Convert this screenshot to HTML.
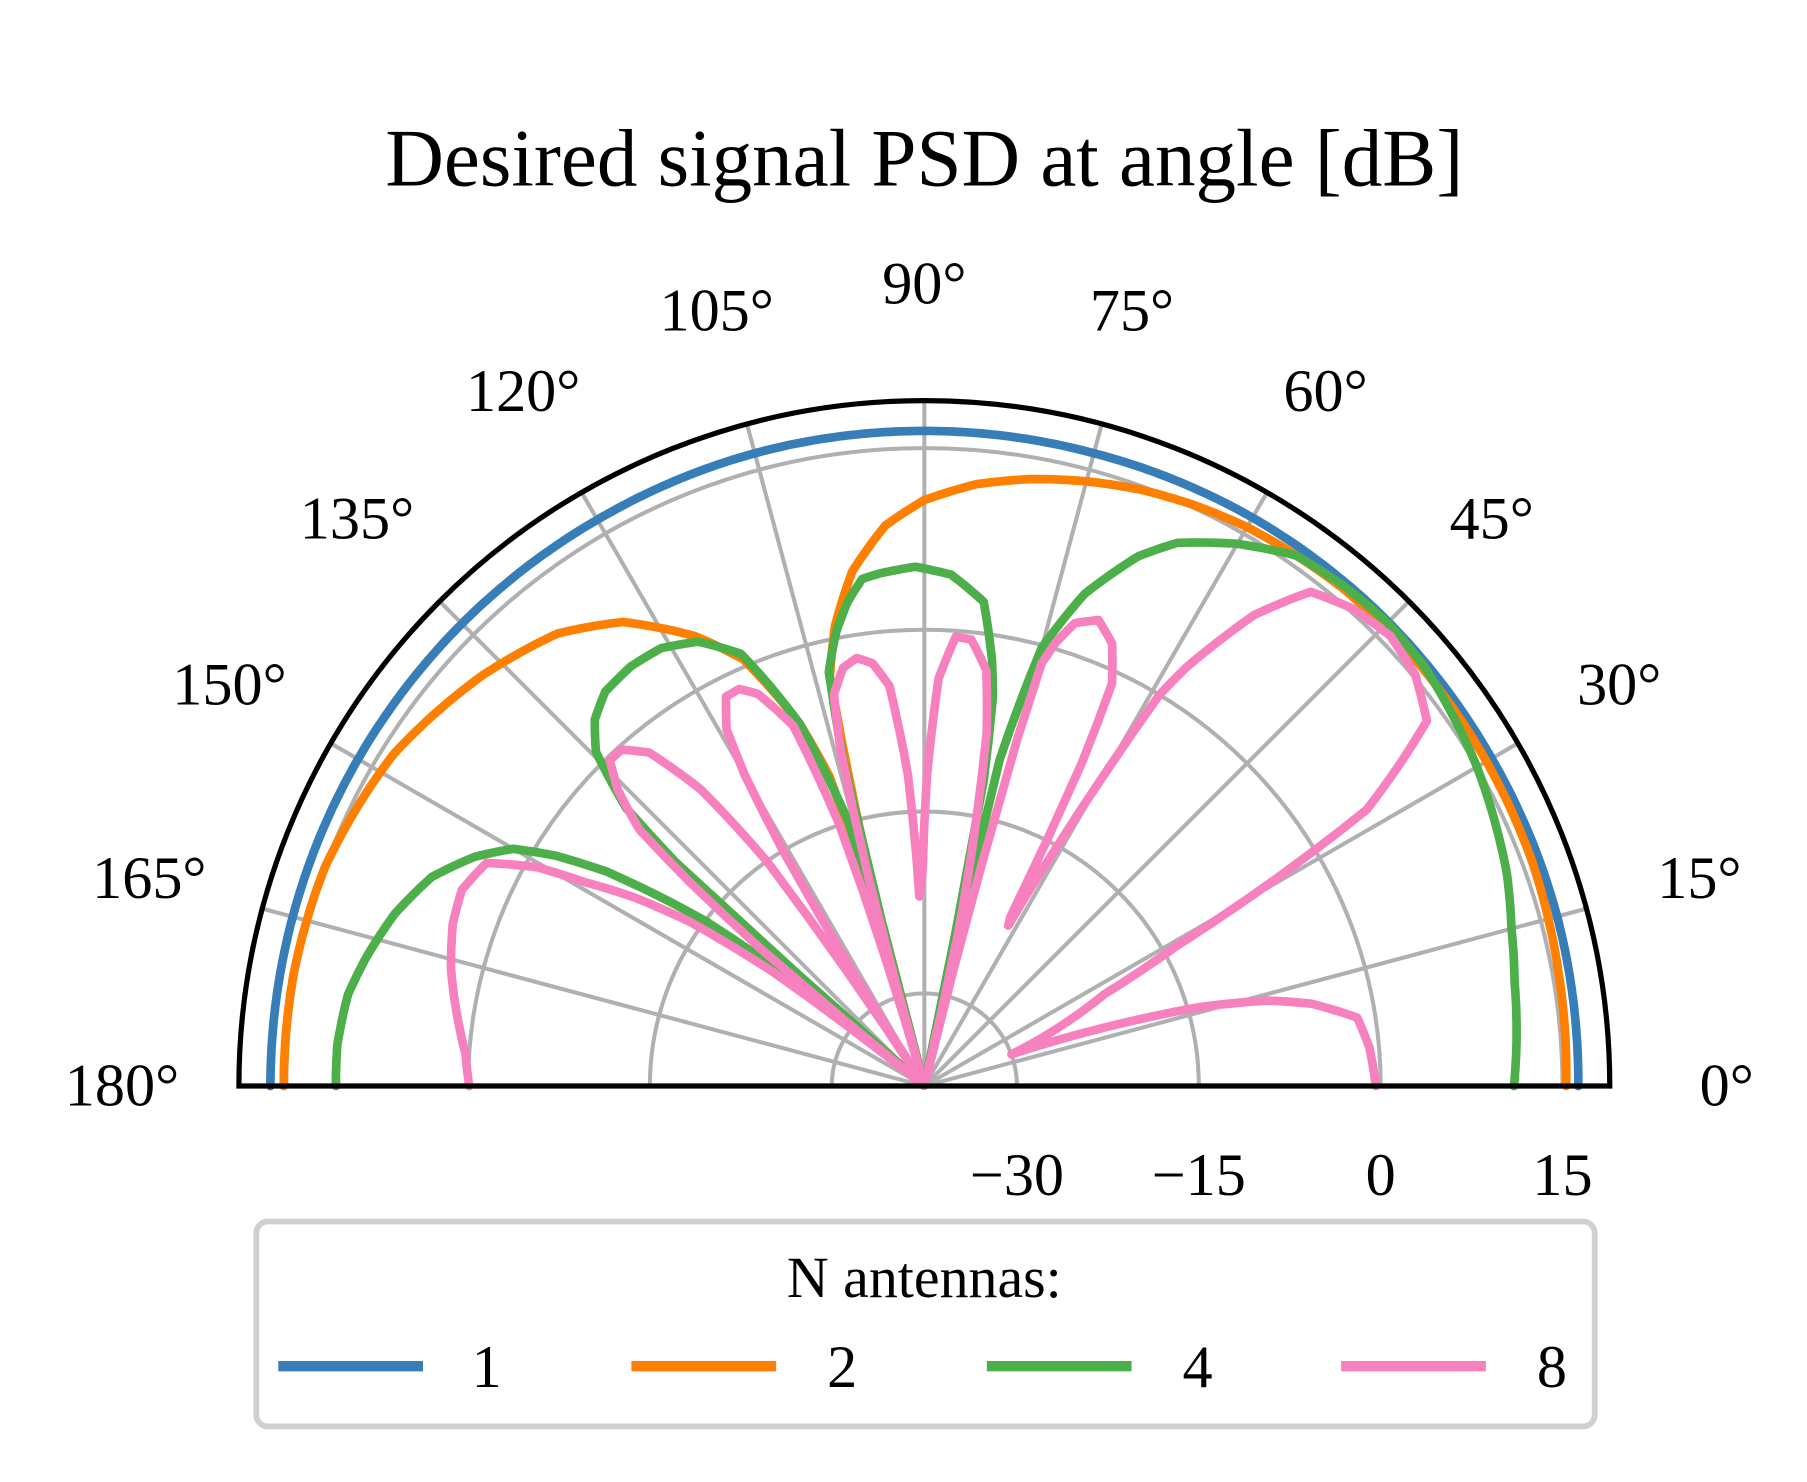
<!DOCTYPE html>
<html><head><meta charset="utf-8"><style>
html,body{margin:0;padding:0;background:#fff}
svg{display:block}
text{font-family:"Liberation Serif","DejaVu Serif",serif;fill:#000}
</style></head><body>
<svg id="chart" width="1807" height="1482" viewBox="0 0 1560 1280">
<text x="798" y="160" font-size="70" text-anchor="middle">Desired signal PSD at angle [dB]</text>
<g id="grid"></g>
<g id="series"></g>
<g id="frame"></g>
<g id="labels"></g>
<g>
<rect x="221" y="1055" width="1156" height="177" rx="10" fill="#fff" stroke="#d0d0d0" stroke-width="5"/>
<text x="798" y="1120" font-size="50" text-anchor="middle">N antennas:</text>
<g><line x1="240" y1="1180" x2="365" y2="1180" stroke="#377eb8" stroke-width="9"/><text x="420" y="1198" font-size="52" text-anchor="middle">1</text></g>
<g><line x1="545" y1="1180" x2="670" y2="1180" stroke="#ff7f00" stroke-width="9"/><text x="727" y="1198" font-size="52" text-anchor="middle">2</text></g>
<g><line x1="852" y1="1180" x2="977" y2="1180" stroke="#4daf4a" stroke-width="9"/><text x="1034" y="1198" font-size="52" text-anchor="middle">4</text></g>
<g><line x1="1158" y1="1180" x2="1283" y2="1180" stroke="#f781bf" stroke-width="9"/><text x="1340" y="1198" font-size="52" text-anchor="middle">8</text></g>
</g>
</svg>
<script>
const angleTicks = [0,15,30,45,60,75,90,105,120,135,150,165,180];
const radialTicks = [-30,-15,0,15];
const seriesNames = ["1","2","4","8"];
const ang1 = [0,15,30,45,60,75,90,105,120,135,150,165,180];
const val1 = [16.3,16.4,16.4,16.5,16.5,16.4,16.4,16.4,16.3,16.3,16.3,16.3,16.3];
const ang2 = [0,10,20,30,40,50,60,65,70,75,80,85,90,94,98,101,103,104.5,105,106,107,109,113,117,123,129,137,148,160,170,180];
const val2 = [15.3,15.5,15.8,15.9,16.0,16.0,15.6,15.2,14.7,14.0,13.2,12.2,10.7,8.7,5.2,1.0,-3,-20,-37.6,-20,-11,-6,0.6,4,8,10.4,12.1,14,15,15.2,15.2];
const ang4 = [0,10,15,20,30,40,45,50,55,60,65,68,72,75,77,78,79,80,81,83,87,91,95,97,99,101,103,104,105,106,109,113,117,121,125,129,132,134.5,137,138,139,141,143,146,148,150,153,157,162,167,171,176,180];
const val4 = [11,11.8,12.5,13.5,15.0,16.2,16.4,16.2,15.8,14.0,11.8,9.5,5,-0.2,-10,-37.6,-12,-5,-2,2.6,4.6,5.2,4.8,4.5,2.8,0.5,-2.6,-10,-37.6,-15,-6,1.1,3.5,4.5,4.6,4.2,3,1,-4,-10,-37.6,-25,-15,-6,-1.8,1.5,4,6.5,8.3,9.6,10.5,10.9,10.9];
const ang8 = [0,5,9,12,14,16,18,20,24,27,29,30.5,32,36,40,44,48,52,55,58,59,60,61,62.4,63,64,65,67,69.5,72,73.5,74.5,75,75.5,76.5,77.5,79,80,81.5,84,86,88,89.5,90.5,91.5,93,95,97,99,101,103,104,105,106,108,110,113,115,117,119,120,121,123,125,127,129.5,132,134,136,138,139,140,141,143,145,147,149,150.5,153,157,161,166,172,176,180];
const val8 = [-0.4,-0.8,-1.5,-5,-8.5,-14,-22,-30,-25,-21,-14,-4,5.4,13.6,15.2,15.8,15.3,14.1,9.8,3,0,-8,-15,-22.7,-22,-8,-1,2,3.4,2.5,0.5,-1.5,-8,-19,-37.6,-25,-15,-8,-3,-0.6,-0.5,-4,-12,-20,-22,-12,-4.5,-2.5,-1.9,-2.5,-4.5,-9,-20,-37.6,-15,-6,-2.5,-1.5,-1.6,-4,-8,-15,-37.6,-15,-7,-2,-0.3,-0.3,-2.5,-6,-12,-20,-37.6,-22,-14,-9,-5,-1,2.9,3.8,3.5,2.6,1.2,0.3,-0.1];
const colors = ["#377eb8","#ff7f00","#4daf4a","#f781bf"];
const angArrays = [ang1,ang2,ang4,ang8];
const valArrays = [val1,val2,val4,val8];

const NS="http://www.w3.org/2000/svg";
const cx=798, cy=938, R=592, rMin=-37.64, rMax=18.9;
function rScale(v){ return Math.max(0,(v-rMin)/(rMax-rMin))*R; }
function pt(a,v){ const t=a*Math.PI/180, r=rScale(v); return [cx+r*Math.cos(t), cy-r*Math.sin(t)]; }
function mk(tag,attrs,parent){ const e=document.createElementNS(NS,tag); for(const k in attrs) e.setAttribute(k,attrs[k]); parent.appendChild(e); return e; }
const grid=document.getElementById('grid'), ser=document.getElementById('series'), frame=document.getElementById('frame'), labels=document.getElementById('labels');
radialTicks.forEach(v=>{
  const r=rScale(v);
  const c=mk('path',{d:`M${cx-r},${cy} A${r},${r} 0 0 1 ${cx+r},${cy}`,fill:'none',stroke:'#b0b0b0','stroke-width':3.5},grid);
  
  
  const t=mk('text',{x:cx+r,y:1032,'font-size':52,'text-anchor':'middle'},labels);
  t.textContent=(v<0?'\u2212':'')+Math.abs(v);
  
  
});
angleTicks.forEach(a=>{
  const t=a*Math.PI/180;
  const l=mk('line',{x1:cx,y1:cy,x2:cx+R*Math.cos(t),y2:cy-R*Math.sin(t),stroke:'#b0b0b0','stroke-width':3.5},grid);
  
  
  const tx=mk('text',{x:cx+693*Math.cos(t),y:cy-693*Math.sin(t)+17,'font-size':52,'text-anchor':'middle'},labels);
  tx.textContent=a+'\u00b0';
  
  
});
angArrays.forEach((angs,i)=>{
  const vals=valArrays[i];
  const pts=[pt(angs[0],vals[0])];
  for(let j=1;j<angs.length;j++){
    const a0=angs[j-1],a1=angs[j],v0=vals[j-1],v1=vals[j];
    const n=Math.max(1,Math.ceil((a1-a0)/0.5));
    for(let k=1;k<=n;k++){const f=k/n; pts.push(pt(a0+(a1-a0)*f, v0+(v1-v0)*f));}
  }
  const d=pts.map((p,j)=>(j?'L':'M')+p[0].toFixed(1)+','+p[1].toFixed(1)).join(' ');
  const p=mk('path',{d:d,fill:'none',stroke:colors[i],'stroke-width':7.5,'stroke-linejoin':'round','stroke-linecap':'round'},ser);
  
  
});
const f=mk('path',{d:`M${cx-R},${cy} A${R},${R} 0 0 1 ${cx+R},${cy} Z`,fill:'none',stroke:'#000','stroke-width':4.5},frame);


</script>
</body></html>
